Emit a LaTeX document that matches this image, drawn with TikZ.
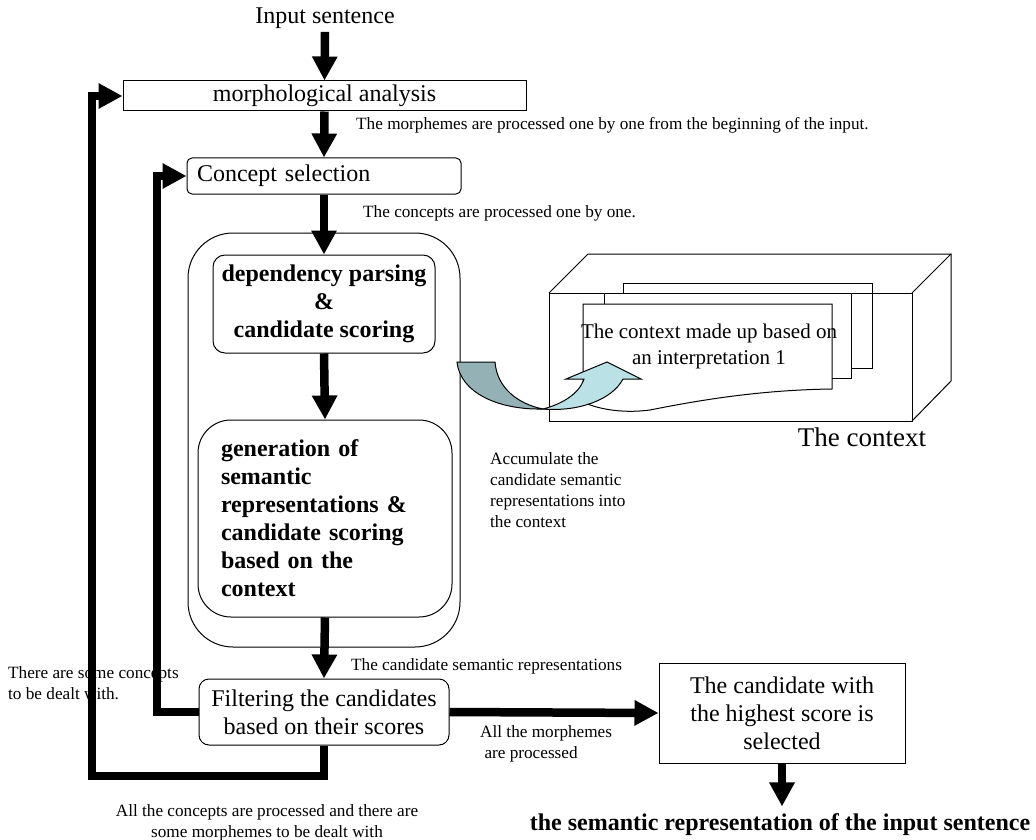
\documentclass[tikz,border=0pt]{standalone}
\usepackage{fontspec}
\setmainfont{Liberation Serif}
\usetikzlibrary{arrows.meta,positioning,calc}
\definecolor{darkteal}{RGB}{148,178,182}
\definecolor{lightteal}{RGB}{186,225,230}
\newcommand\mainsize{\fontsize{24}{28}\selectfont}
\newcommand\notesize{\fontsize{17.2}{20.5}\selectfont}
\newcommand\pagesize{\fontsize{21}{26}\selectfont}

\begin{document}
\begin{tikzpicture}[x=1pt,y=-1pt,
  box/.style={draw,line width=1pt,fill=white,font=\mainsize,inner sep=0pt},
  flow/.style={line width=8.5pt,-{Triangle[length=24pt,width=24pt]}},
  note/.style={font=\notesize,inner sep=0pt},
  thin/.style={line width=1pt}]
  \useasboundingbox (0,0) rectangle (1036,840);

  % main column
  \node[font=\mainsize] (input) at (325,18) {Input sentence};
  \node[box,minimum width=403pt,minimum height=30pt] (morph) at (324.5,96) {morphological analysis};
  \node[box,rounded corners=5pt,minimum height=36pt,text width=254pt,inner xsep=10pt,align=left] (concept) at (324,176) {Concept selection};
  \node[box,rounded corners=45pt,minimum width=272pt,minimum height=414pt] (outer) at (324,440) {};
  \node[box,rounded corners=12pt,minimum width=222pt,minimum height=98pt,font=\mainsize\bfseries,align=center] (dep) at (324,304) {dependency parsing\\\&\\candidate scoring};
  \node[box,rounded corners=33pt,minimum height=197pt,text width=208pt,inner xsep=23pt,align=left,font=\mainsize\bfseries] (gen) at (325,518.5) {generation of\\semantic\\representations \&\\candidate scoring\\based on the\\context};
  \node[box,rounded corners=10pt,minimum width=250pt,minimum height=66pt,align=center] (filter) at (324,712) {Filtering the candidates\\based on their scores};
  \node[box,minimum width=246pt,minimum height=100pt,align=center] (cand) at (782,713) {The candidate with\\the highest score is\\selected};
  \node[font=\mainsize\bfseries] (result) at (780,825) {the semantic representation of the input sentence};

  % notes
  \node[note,anchor=west] (mnote) at (356,125) {The morphemes are processed one by one from the beginning of the input.};
  \node[note,anchor=west] (cnote) at (363,213) {The concepts are processed one by one.};
  \node[note,anchor=west] (snote) at (351,666) {The candidate semantic representations};
  \node[note,anchor=west,align=left] (rnote) at (8,683) {There are some concepts\\to be dealt with.};
  \node[note,anchor=west,align=left] (pnote) at (480,744) {All the morphemes\\\ are processed};
  \node[note,align=center] (bnote) at (267,823) {All the concepts are processed and there are\\some morphemes to be dealt with};
  \node[note,anchor=west,align=left,font=\fontsize{17.2}{21}\selectfont] (anote) at (490,490) {Accumulate the\\candidate semantic\\representations into\\the context};

  % flow
  \draw[flow] (input.south) -- (morph.north);
  \draw[flow] (morph.south) -- (concept.north);
  \draw[flow] (concept.south) -- (dep.north);
  \draw[flow] (dep.south) -- (gen.north);
  \draw[flow] (gen.south) -- (filter.north);
  \draw[flow] (filter.east) -- (cand.west);
  \draw[flow,shorten >=4pt] (cand.south) -- (cand.south |- result.north);
  \coordinate (backA) at (92,776);
  \coordinate (backB) at (157,712);
  \draw[flow] (filter.south) |- (backA) |- (morph.west);
  \draw[flow] (filter.west) -- (backB) |- (concept.west);

  % the context
  \draw[thin,fill=white] (623,283) rectangle (872,368);
  \draw[thin,fill=white] (604,293) rectangle (851,378);
  \draw[thin,fill=white] (583,304) -- (832,304) -- (832,389)
    .. controls (760,390) and (700,400) .. (650,410)
    .. controls (620,414) and (595,408) .. (583,402) -- cycle;
  \node[font=\pagesize,align=center] (page) at (709,346) {The context made up based on\\an interpretation 1};
  \draw[thin] (549,293) rectangle (912,421);
  \draw[thin] (549,293) -- (588,254) -- (951,254) -- (912,293);
  \draw[thin] (951,254) -- (951,381) -- (912,421);
  \node[font=\fontsize{27}{32}\selectfont] (ctx) at (862,437) {The context};

  % accumulate arrow
  \draw[thin,fill=darkteal] (457,362) -- (495,362)
    .. controls (497,388) and (518,404) .. (543,409)
    .. controls (497,410) and (460,392) .. (457,362) -- cycle;
  \draw[thin,fill=lightteal] (543,409)
    .. controls (562,404) and (579,394) .. (584,379) -- (566,379) -- (607,362)
    -- (641,379) -- (623,379)
    .. controls (612,400) and (578,412) .. (543,409) -- cycle;
\end{tikzpicture}
\end{document}
